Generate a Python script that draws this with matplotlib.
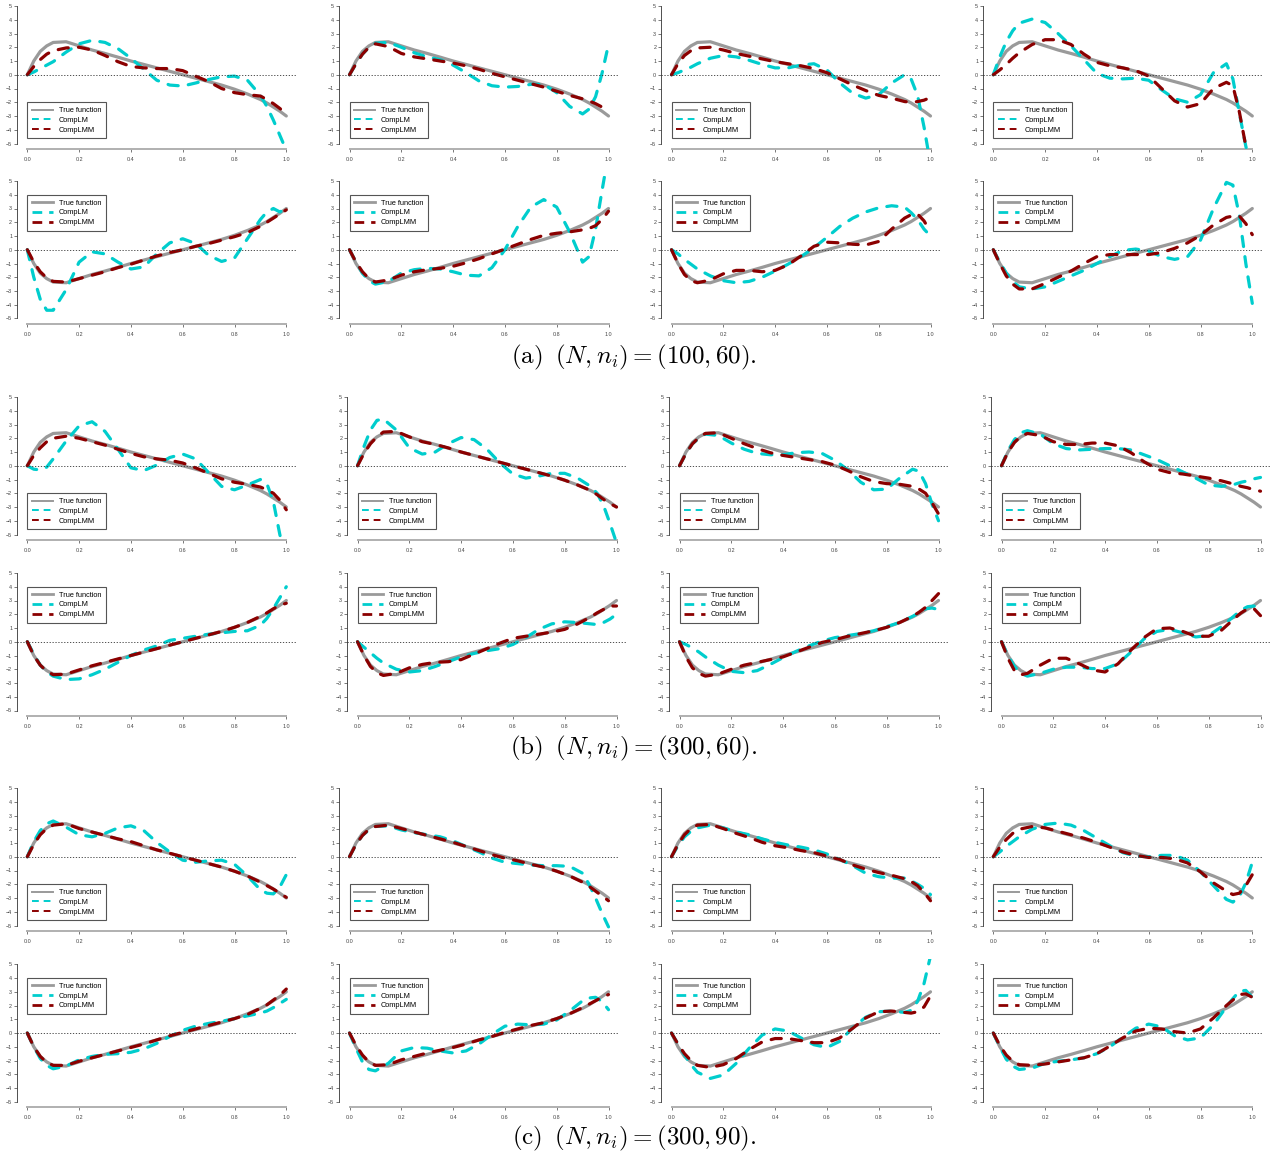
import matplotlib
matplotlib.use('Agg')
import matplotlib.pyplot as plt
from matplotlib.lines import Line2D

plt.rcParams['font.family'] = ['Liberation Sans', 'DejaVu Sans']
plt.rcParams['mathtext.fontset'] = 'cm'

# x grid where the curves were read
X = [0, 0.025, 0.05, 0.075, 0.1, 0.15, 0.2, 0.25, 0.3, 0.35, 0.4, 0.45, 0.5,
     0.55, 0.6, 0.65, 0.7, 0.75, 0.8, 0.85, 0.9, 0.925, 0.95, 0.975, 1.0]

TRUE_UP = [0, 1.0, 1.7, 2.1, 2.35, 2.4, 2.1, 1.8, 1.55, 1.28, 1.0, 0.75, 0.5,
           0.25, 0.0, -0.25, -0.5, -0.75, -1.05, -1.4, -1.8, -2.05, -2.35, -2.65, -3.0]
TRUE_DOWN = [0, -1.0, -1.7, -2.1, -2.35, -2.4, -2.1, -1.8, -1.55, -1.28, -1.0, -0.75, -0.5,
             -0.25, 0.0, 0.25, 0.5, 0.75, 1.05, 1.4, 1.8, 2.05, 2.35, 2.65, 3.0]

# (a) (N, n_i) = (100, 60)
LM_A1 = [0, 0.2, 0.45, 0.7, 0.95, 1.65, 2.25, 2.5, 2.35, 1.9, 1.2, 0.4, -0.4, -0.75, -0.82, -0.6, -0.35, -0.15, -0.1, -0.4, -1.5, -2.3, -3.3, -4.4, -5.5]
LMM_A1 = [0, 0.6, 1.1, 1.5, 1.75, 1.95, 2.0, 1.8, 1.4, 0.95, 0.6, 0.5, 0.45, 0.45, 0.3, -0.1, -0.5, -1.0, -1.3, -1.45, -1.55, -1.8, -2.1, -2.45, -2.85]
LM_A2 = [0, 0.8, 1.5, 2.0, 2.3, 2.35, 2.0, 1.6, 1.3, 1.1, 0.7, 0.15, -0.45, -0.8, -0.9, -0.85, -0.7, -0.7, -1.3, -2.3, -2.85, -2.5, -1.6, 0.1, 2.2]
LMM_A2 = [0, 0.8, 1.5, 2.0, 2.25, 2.05, 1.55, 1.3, 1.15, 1.0, 0.85, 0.65, 0.4, 0.1, -0.15, -0.4, -0.65, -0.9, -1.2, -1.5, -1.75, -1.9, -2.1, -2.35, -2.6]
LM_A3 = [0, 0.15, 0.35, 0.55, 0.8, 1.2, 1.4, 1.3, 1.05, 0.75, 0.5, 0.5, 0.7, 0.8, 0.35, -0.6, -1.35, -1.7, -1.45, -0.6, 0.0, -0.3, -1.5, -3.8, -6.5]
LMM_A3 = [0, 0.8, 1.4, 1.75, 1.95, 2.0, 1.8, 1.55, 1.35, 1.15, 0.95, 0.8, 0.65, 0.45, 0.15, -0.3, -0.75, -1.15, -1.5, -1.7, -1.95, -2.0, -1.95, -1.85, -1.65]
LM_A4 = [0, 1.3, 2.4, 3.2, 3.75, 4.05, 3.8, 3.0, 2.1, 1.1, 0.1, -0.25, -0.3, -0.25, -0.4, -1.1, -1.75, -2.0, -1.45, 0.15, 0.8, -0.3, -2.8, -5.2, -7.0]
LMM_A4 = [0, 0.35, 0.75, 1.2, 1.6, 2.2, 2.55, 2.55, 2.2, 1.5, 0.9, 0.65, 0.5, 0.3, -0.1, -1.0, -1.9, -2.35, -2.1, -1.0, -0.55, -0.8, -2.7, -5.2, -7.0]
LM_A5 = [0, -2.0, -3.6, -4.4, -4.4, -2.9, -0.9, -0.15, -0.3, -0.9, -1.4, -1.25, -0.3, 0.5, 0.8, 0.45, -0.4, -0.85, -0.6, 0.8, 2.2, 2.75, 3.0, 2.75, 3.0]
LMM_A5 = [0, -0.9, -1.6, -2.05, -2.3, -2.35, -2.1, -1.85, -1.6, -1.3, -1.05, -0.75, -0.45, -0.2, 0.0, 0.25, 0.45, 0.7, 0.95, 1.25, 1.7, 2.0, 2.3, 2.6, 2.9]
LM_A6 = [0, -0.9, -1.7, -2.25, -2.5, -2.3, -1.7, -1.45, -1.35, -1.4, -1.6, -1.85, -1.9, -1.3, 0.0, 1.7, 3.1, 3.65, 3.1, 1.3, -0.9, -0.5, 1.5, 4.3, 7.0]
LMM_A6 = [0, -0.9, -1.6, -2.1, -2.35, -2.2, -1.85, -1.6, -1.45, -1.35, -1.2, -0.95, -0.65, -0.3, 0.05, 0.4, 0.75, 1.05, 1.2, 1.3, 1.45, 1.55, 1.75, 2.2, 2.8]
LM_A7 = [0, -0.3, -0.7, -1.05, -1.4, -1.9, -2.25, -2.4, -2.3, -2.0, -1.55, -1.05, -0.5, 0.15, 0.9, 1.7, 2.3, 2.75, 3.05, 3.2, 3.1, 2.7, 2.2, 1.5, 1.0]
LMM_A7 = [0, -1.0, -1.8, -2.25, -2.4, -2.2, -1.75, -1.5, -1.5, -1.6, -1.5, -1.1, -0.45, 0.25, 0.55, 0.5, 0.4, 0.35, 0.6, 1.5, 2.3, 2.55, 2.6, 2.1, 1.3]
LM_A8 = [0, -0.9, -1.7, -2.3, -2.7, -2.85, -2.7, -2.3, -1.9, -1.5, -1.0, -0.5, -0.05, 0.05, -0.1, -0.5, -0.7, -0.5, 0.7, 3.0, 4.9, 4.7, 2.5, -1.0, -3.9]
LMM_A8 = [0, -1.0, -1.9, -2.5, -2.85, -2.85, -2.45, -2.0, -1.55, -1.0, -0.5, -0.35, -0.35, -0.35, -0.35, -0.2, 0.1, 0.5, 1.05, 1.8, 2.35, 2.45, 2.45, 1.9, 1.1]

# (b) (N, n_i) = (300, 60)
LM_B1 = [0, -0.25, -0.3, -0.1, 0.5, 1.8, 2.9, 3.2, 2.5, 1.2, -0.15, -0.35, 0.05, 0.6, 0.85, 0.5, -0.5, -1.5, -1.75, -1.4, -1.0, -1.3, -2.6, -5.0, -7.0]
LMM_B1 = [0, 0.75, 1.3, 1.75, 2.0, 2.15, 2.0, 1.75, 1.5, 1.2, 0.9, 0.65, 0.5, 0.4, 0.2, -0.15, -0.55, -0.95, -1.2, -1.35, -1.55, -1.75, -2.0, -2.5, -3.2]
LM_B2 = [0, 1.4, 2.6, 3.3, 3.4, 2.6, 1.3, 0.85, 1.0, 1.6, 2.05, 1.9, 1.2, 0.2, -0.6, -0.9, -0.75, -0.55, -0.55, -0.9, -1.5, -2.0, -2.9, -4.2, -5.6]
LMM_B2 = [0, 0.9, 1.6, 2.1, 2.45, 2.5, 2.1, 1.75, 1.55, 1.3, 1.0, 0.75, 0.5, 0.25, 0.0, -0.25, -0.5, -0.75, -1.05, -1.4, -1.8, -2.1, -2.45, -2.75, -3.0]
LM_B3 = [0, 0.9, 1.6, 2.0, 2.3, 2.2, 1.65, 1.2, 0.9, 0.8, 0.8, 0.95, 1.0, 0.9, 0.4, -0.3, -1.2, -1.75, -1.7, -0.9, -0.25, -0.4, -1.3, -2.8, -4.0]
LMM_B3 = [0, 0.9, 1.6, 2.05, 2.35, 2.4, 2.0, 1.6, 1.25, 0.95, 0.75, 0.6, 0.45, 0.3, 0.05, -0.35, -0.8, -1.15, -1.3, -1.35, -1.5, -1.7, -2.0, -2.7, -3.5]
LM_B4 = [0, 1.1, 1.9, 2.4, 2.55, 2.3, 1.6, 1.25, 1.15, 1.2, 1.25, 1.25, 1.15, 0.8, 0.45, 0.0, -0.45, -0.9, -1.4, -1.5, -1.35, -1.2, -1.1, -0.95, -0.85]
LMM_B4 = [0, 1.0, 1.7, 2.15, 2.35, 2.2, 1.75, 1.55, 1.55, 1.65, 1.65, 1.45, 0.95, 0.3, -0.25, -0.5, -0.6, -0.75, -0.9, -1.1, -1.35, -1.5, -1.6, -1.75, -1.85]
LM_B5 = [0, -0.9, -1.7, -2.2, -2.5, -2.75, -2.7, -2.4, -2.0, -1.5, -1.0, -0.6, -0.3, 0.1, 0.25, 0.4, 0.55, 0.65, 0.75, 0.8, 1.2, 1.7, 2.4, 3.2, 4.0]
LMM_B5 = [0, -1.0, -1.7, -2.15, -2.4, -2.35, -2.05, -1.75, -1.5, -1.25, -1.0, -0.75, -0.5, -0.25, 0.0, 0.25, 0.5, 0.75, 1.05, 1.4, 1.85, 2.1, 2.4, 2.65, 2.8]
LM_B6 = [0, -0.4, -0.8, -1.2, -1.55, -2.0, -2.2, -2.1, -1.8, -1.45, -1.1, -0.85, -0.65, -0.5, -0.2, 0.3, 0.9, 1.3, 1.45, 1.4, 1.3, 1.25, 1.4, 1.65, 2.0]
LMM_B6 = [0, -1.0, -1.8, -2.25, -2.45, -2.3, -1.9, -1.65, -1.5, -1.45, -1.3, -0.9, -0.5, -0.1, 0.25, 0.4, 0.55, 0.7, 0.9, 1.3, 1.8, 2.1, 2.35, 2.6, 2.6]
LM_B7 = [0, -0.2, -0.45, -0.75, -1.1, -1.7, -2.15, -2.25, -2.1, -1.65, -1.15, -0.7, -0.3, 0.05, 0.3, 0.45, 0.6, 0.8, 1.1, 1.4, 1.85, 2.1, 2.4, 2.45, 2.35]
LMM_B7 = [0, -1.1, -1.9, -2.3, -2.5, -2.35, -2.0, -1.7, -1.5, -1.3, -1.1, -0.75, -0.4, -0.05, 0.15, 0.4, 0.6, 0.8, 1.05, 1.4, 1.85, 2.15, 2.5, 3.0, 3.5]
LM_B8 = [0, -1.0, -1.8, -2.3, -2.5, -2.3, -2.0, -1.85, -1.85, -1.95, -1.95, -1.6, -0.75, 0.2, 0.75, 0.9, 0.65, 0.35, 0.45, 1.1, 1.9, 2.3, 2.55, 2.6, 2.1]
LMM_B8 = [0, -1.2, -2.1, -2.4, -2.3, -1.7, -1.2, -1.2, -1.6, -2.05, -2.2, -1.6, -0.6, 0.3, 0.95, 1.0, 0.75, 0.4, 0.4, 0.85, 1.7, 2.1, 2.4, 2.4, 1.9]

# (c) (N, n_i) = (300, 90)
LM_C1 = [0, 1.1, 1.9, 2.4, 2.6, 2.15, 1.6, 1.45, 1.7, 2.1, 2.25, 1.9, 1.05, 0.35, -0.25, -0.4, -0.3, -0.25, -0.55, -1.4, -2.4, -2.65, -2.7, -2.2, -1.3]
LMM_C1 = [0, 0.9, 1.6, 2.05, 2.3, 2.4, 2.05, 1.8, 1.55, 1.3, 1.1, 0.8, 0.5, 0.25, 0.0, -0.25, -0.5, -0.75, -1.05, -1.4, -1.85, -2.1, -2.35, -2.65, -2.95]
LM_C2 = [0, 0.9, 1.55, 1.95, 2.2, 2.25, 1.95, 1.75, 1.6, 1.45, 1.15, 0.75, 0.35, -0.1, -0.4, -0.5, -0.6, -0.65, -0.65, -0.7, -1.2, -2.0, -3.0, -4.1, -5.1]
LMM_C2 = [0, 0.9, 1.55, 2.0, 2.2, 2.3, 2.05, 1.8, 1.55, 1.3, 1.05, 0.75, 0.45, 0.15, -0.1, -0.3, -0.55, -0.75, -1.05, -1.4, -1.85, -2.15, -2.5, -2.85, -3.2]
LM_C3 = [0, 0.8, 1.45, 1.85, 2.1, 2.3, 2.1, 1.8, 1.6, 1.3, 1.05, 0.85, 0.7, 0.5, 0.2, -0.2, -0.65, -1.2, -1.45, -1.55, -1.55, -1.75, -2.0, -2.3, -2.75]
LMM_C3 = [0, 0.9, 1.6, 2.05, 2.3, 2.35, 2.05, 1.7, 1.4, 1.05, 0.8, 0.65, 0.45, 0.3, 0.05, -0.2, -0.6, -0.9, -1.15, -1.35, -1.6, -1.8, -2.1, -2.6, -3.2]
LM_C4 = [0, 0.35, 0.75, 1.1, 1.45, 2.0, 2.35, 2.45, 2.3, 1.9, 1.35, 0.8, 0.3, 0.05, 0.0, 0.1, 0.1, -0.25, -1.1, -2.1, -3.1, -3.3, -2.9, -1.9, -0.4]
LMM_C4 = [0, 0.7, 1.25, 1.7, 2.0, 2.2, 2.1, 1.85, 1.6, 1.35, 1.05, 0.7, 0.35, 0.1, -0.05, -0.05, -0.15, -0.45, -1.1, -1.9, -2.5, -2.75, -2.65, -2.1, -1.3]
LM_C5 = [0, -1.0, -1.85, -2.35, -2.6, -2.4, -1.95, -1.7, -1.55, -1.5, -1.4, -1.15, -0.75, -0.25, 0.2, 0.5, 0.7, 0.85, 1.05, 1.25, 1.45, 1.6, 1.85, 2.15, 2.45]
LMM_C5 = [0, -1.0, -1.7, -2.15, -2.35, -2.35, -2.05, -1.8, -1.55, -1.3, -1.05, -0.8, -0.5, -0.2, 0.05, 0.3, 0.55, 0.8, 1.05, 1.35, 1.8, 2.05, 2.4, 2.75, 3.2]
LM_C6 = [0, -1.1, -2.1, -2.65, -2.75, -2.2, -1.3, -1.05, -1.1, -1.3, -1.45, -1.3, -0.8, -0.1, 0.5, 0.65, 0.6, 0.65, 0.95, 1.6, 2.35, 2.55, 2.6, 2.3, 1.7]
LMM_C6 = [0, -0.9, -1.6, -2.1, -2.35, -2.3, -1.95, -1.7, -1.45, -1.25, -1.05, -0.8, -0.5, -0.25, 0.05, 0.3, 0.55, 0.75, 1.05, 1.4, 1.85, 2.1, 2.35, 2.6, 2.8]
LM_C7 = [0, -0.8, -1.6, -2.3, -2.85, -3.3, -3.05, -2.2, -1.1, -0.15, 0.3, 0.15, -0.35, -0.85, -1.05, -0.6, 0.4, 1.15, 1.55, 1.6, 1.5, 1.65, 2.3, 3.6, 5.6]
LMM_C7 = [0, -0.8, -1.5, -2.0, -2.35, -2.5, -2.3, -1.85, -1.2, -0.65, -0.4, -0.4, -0.55, -0.7, -0.7, -0.35, 0.35, 1.1, 1.55, 1.6, 1.5, 1.45, 1.55, 1.9, 2.7]
LM_C8 = [0, -1.0, -1.9, -2.4, -2.65, -2.55, -2.2, -2.05, -1.95, -1.8, -1.5, -1.0, -0.3, 0.35, 0.65, 0.45, -0.2, -0.5, -0.35, 0.6, 1.9, 2.5, 3.05, 3.1, 2.6]
LMM_C8 = [0, -0.9, -1.6, -2.05, -2.3, -2.35, -2.25, -2.1, -1.95, -1.8, -1.5, -0.95, -0.35, 0.15, 0.35, 0.3, 0.1, 0.0, 0.3, 1.1, 2.0, 2.4, 2.8, 2.85, 2.6]

CAPTIONS = [r'$\mathrm{(a)}\;\;(N, n_i) = (100, 60).$',
            r'$\mathrm{(b)}\;\;(N, n_i) = (300, 60).$',
            r'$\mathrm{(c)}\;\;(N, n_i) = (300, 90).$']
LABELS = ['True function', 'CompLM', 'CompLMM']

GREY = '#9a9a9a'
CYAN = '#00cdcd'
DARKRED = '#8b0000'

# page layout in pixels
FIG_W, FIG_H = 1282, 1159
UNIT_X = 259.0          # pixels from x=0 to x=1
SPAN_Y = 137.5          # pixels from y=5 to y=-5
COL_X = [[27.3, 349.5, 671.5, 993.3],
         [27.3, 357.5, 679.5, 1001.5],
         [27.3, 349.5, 671.5, 993.3]]
ROW_Y = [[6, 181], [397, 573], [788, 964.3]]
CAPTION_Y = [357, 748, 1138]


def add_panel(fig, x0, y5, truth, lm, lmm, legend_top, legend_lw):
    uy = SPAN_Y / 10
    left = x0 - 0.04 * UNIT_X
    right = x0 + 1.04 * UNIT_X
    top = y5 - 0.4 * uy
    bottom = y5 + 10.4 * uy
    ax = fig.add_axes([left / FIG_W, 1 - bottom / FIG_H,
                       (right - left) / FIG_W, (bottom - top) / FIG_H])
    ax.set_xlim(-0.04, 1.04)
    ax.set_ylim(-5.4, 5.4)

    ax.plot(X, truth, color=GREY, lw=2.3, solid_capstyle='round',
            solid_joinstyle='round', zorder=2)
    ax.plot(X, lm, color=CYAN, lw=2.3, dashes=(3.2, 3.2),
            dash_capstyle='round', dash_joinstyle='round', zorder=3)
    ax.plot(X, lmm, color=DARKRED, lw=2.3, dashes=(3.2, 3.2),
            dash_capstyle='round', dash_joinstyle='round', zorder=4)
    ax.axhline(0, color='#333333', lw=0.6, ls=(0, (1.5, 2)), zorder=5)

    for side in ['top', 'right']:
        ax.spines[side].set_visible(False)
    ax.spines['left'].set_bounds(-5, 5)
    ax.spines['left'].set_linewidth(0.6)
    ax.spines['left'].set_color('#333333')
    ax.spines['bottom'].set_bounds(0, 1)
    ax.spines['bottom'].set_linewidth(1.4)
    ax.spines['bottom'].set_color('#b0b0b0')

    ax.set_yticks(range(-5, 6))
    ax.set_xticks([0, 0.2, 0.4, 0.6, 0.8, 1.0])
    ax.set_xticklabels(['0.0', '0.2', '0.4', '0.6', '0.8', '1.0'])
    ax.tick_params(labelsize=3.9, length=2, width=0.5, pad=1.5,
                   colors='#444444')
    ax.tick_params(axis='x', pad=3.6)

    handles = [Line2D([], [], color=GREY, lw=legend_lw),
               Line2D([], [], color=CYAN, lw=legend_lw, dashes=(3.5, 2.5)),
               Line2D([], [], color=DARKRED, lw=legend_lw, dashes=(3.5, 2.5))]
    leg = ax.legend(handles, LABELS, loc='upper left',
                    bbox_to_anchor=(0, legend_top),
                    bbox_transform=ax.transData, borderaxespad=0,
                    fontsize=5.3, frameon=True, fancybox=False,
                    framealpha=1, edgecolor='#555555',
                    handlelength=2.8, handletextpad=0.8,
                    borderpad=0.65, labelspacing=0.35)
    leg.get_frame().set_linewidth(0.8)
    return ax


fig = plt.figure(figsize=(FIG_W / 100, FIG_H / 100), dpi=100)

groups = [
    [(LM_A1, LMM_A1), (LM_A2, LMM_A2), (LM_A3, LMM_A3), (LM_A4, LMM_A4),
     (LM_A5, LMM_A5), (LM_A6, LMM_A6), (LM_A7, LMM_A7), (LM_A8, LMM_A8)],
    [(LM_B1, LMM_B1), (LM_B2, LMM_B2), (LM_B3, LMM_B3), (LM_B4, LMM_B4),
     (LM_B5, LMM_B5), (LM_B6, LMM_B6), (LM_B7, LMM_B7), (LM_B8, LMM_B8)],
    [(LM_C1, LMM_C1), (LM_C2, LMM_C2), (LM_C3, LMM_C3), (LM_C4, LMM_C4),
     (LM_C5, LMM_C5), (LM_C6, LMM_C6), (LM_C7, LMM_C7), (LM_C8, LMM_C8)],
]

for g, panels in enumerate(groups):
    for k, (lm, lmm) in enumerate(panels):
        row, col = divmod(k, 4)
        truth = TRUE_UP if row == 0 else TRUE_DOWN
        legend_top = -2 if row == 0 else 4
        legend_lw = 1.4 if row == 0 else 2.0
        add_panel(fig, COL_X[g][col], ROW_Y[g][row], truth, lm, lmm,
                  legend_top, legend_lw)
    fig.text(634 / FIG_W, 1 - CAPTION_Y[g] / FIG_H, CAPTIONS[g],
             ha='center', va='center', fontsize=18)

fig.savefig('out.png', dpi=100)
